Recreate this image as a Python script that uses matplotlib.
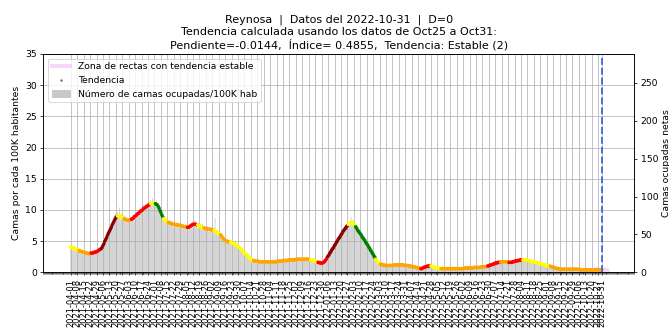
import matplotlib
matplotlib.use('Agg')
import matplotlib.pyplot as plt
import matplotlib.dates as mdates
from matplotlib.lines import Line2D
from matplotlib.patches import Patch
import numpy as np
import pandas as pd

ciudad = 'Reynosa'
fecha_datos = '2022-10-31'
poblacion = 823000

fecha_inicio = '2021-04-01'
fecha_fin = '2022-10-31'

# tendencia diaria (camas por cada 100K hab), una fila por semana
tendencia = [
    4.1, 4.0, 3.9, 3.9, 3.8, 3.7, 3.7,
    3.6, 3.6, 3.5, 3.4, 3.4, 3.3, 3.3,
    3.2, 3.2, 3.1, 3.1, 3.1, 3.0, 3.0,
    3.0, 3.1, 3.1, 3.1, 3.2, 3.2, 3.3,
    3.3, 3.4, 3.5, 3.6, 3.7, 3.8, 4.0,
    4.3, 4.6, 5.0, 5.3, 5.6, 6.0, 6.3,
    6.6, 6.9, 7.2, 7.6, 7.9, 8.2, 8.5,
    8.8, 8.9, 9.0, 9.1, 9.1, 9.0, 8.9,
    8.8, 8.7, 8.6, 8.5, 8.4, 8.4, 8.3,
    8.3, 8.4, 8.4, 8.5, 8.6, 8.7, 8.9,
    9.0, 9.1, 9.3, 9.4, 9.5, 9.7, 9.8,
    9.9, 10.0, 10.2, 10.3, 10.4, 10.5, 10.6,
    10.7, 10.8, 10.9, 11.0, 11.0, 11.1, 11.1,
    11.1, 11.0, 10.9, 10.8, 10.6, 10.3, 9.9,
    9.6, 9.2, 8.9, 8.6, 8.4, 8.3, 8.1,
    8.0, 8.0, 7.9, 7.9, 7.8, 7.8, 7.7,
    7.7, 7.7, 7.6, 7.6, 7.6, 7.6, 7.5,
    7.5, 7.5, 7.4, 7.4, 7.3, 7.3, 7.3,
    7.2, 7.2, 7.2, 7.3, 7.4, 7.5, 7.6,
    7.7, 7.7, 7.7, 7.7, 7.6, 7.6, 7.5,
    7.4, 7.3, 7.3, 7.2, 7.1, 7.1, 7.0,
    7.0, 7.0, 6.9, 6.9, 6.9, 6.9, 6.8,
    6.8, 6.7, 6.7, 6.6, 6.6, 6.4, 6.3,
    6.2, 6.1, 6.0, 5.8, 5.6, 5.4, 5.2,
    5.1, 5.0, 5.0, 4.9, 4.9, 4.8, 4.8,
    4.7, 4.7, 4.6, 4.5, 4.5, 4.4, 4.3,
    4.2, 4.0, 3.9, 3.7, 3.6, 3.4, 3.3,
    3.1, 3.0, 2.8, 2.7, 2.5, 2.4, 2.2,
    2.1, 2.0, 1.9, 1.9, 1.8, 1.8, 1.8,
    1.8, 1.8, 1.7, 1.7, 1.7, 1.7, 1.7,
    1.7, 1.7, 1.7, 1.7, 1.7, 1.7, 1.7,
    1.7, 1.7, 1.7, 1.7, 1.7, 1.7, 1.7,
    1.7, 1.8, 1.8, 1.8, 1.8, 1.8, 1.8,
    1.9, 1.9, 1.9, 1.9, 1.9, 1.9, 2.0,
    2.0, 2.0, 2.0, 2.0, 2.0, 2.0, 2.0,
    2.1, 2.1, 2.1, 2.1, 2.1, 2.1, 2.1,
    2.1, 2.1, 2.1, 2.1, 2.1, 2.1, 2.1,
    2.1, 2.0, 2.0, 2.0, 2.0, 1.9, 1.9,
    1.8, 1.7, 1.7, 1.6, 1.6, 1.5, 1.5,
    1.5, 1.5, 1.6, 1.7, 1.9, 2.1, 2.4,
    2.6, 2.8, 3.1, 3.3, 3.6, 3.8, 4.0,
    4.3, 4.5, 4.8, 5.0, 5.3, 5.5, 5.7,
    6.0, 6.2, 6.5, 6.7, 6.9, 7.1, 7.3,
    7.5, 7.7, 7.8, 7.9, 8.0, 8.0, 7.9,
    7.7, 7.5, 7.3, 7.1, 6.8, 6.6, 6.4,
    6.2, 6.0, 5.7, 5.5, 5.3, 5.1, 4.8,
    4.6, 4.4, 4.1, 3.9, 3.6, 3.4, 3.1,
    2.9, 2.6, 2.4, 2.1, 1.9, 1.6, 1.5,
    1.4, 1.3, 1.3, 1.2, 1.2, 1.2, 1.1,
    1.1, 1.1, 1.1, 1.1, 1.1, 1.1, 1.1,
    1.1, 1.1, 1.2, 1.2, 1.2, 1.2, 1.2,
    1.2, 1.2, 1.2, 1.2, 1.2, 1.2, 1.1,
    1.1, 1.1, 1.1, 1.1, 1.0, 1.0, 1.0,
    1.0, 0.9, 0.9, 0.9, 0.8, 0.8, 0.7,
    0.7, 0.7, 0.6, 0.6, 0.6, 0.7, 0.8,
    0.8, 0.9, 0.9, 1.0, 1.0, 1.0, 1.0,
    1.0, 1.0, 0.9, 0.9, 0.8, 0.8, 0.7,
    0.7, 0.7, 0.6, 0.6, 0.6, 0.6, 0.6,
    0.6, 0.6, 0.6, 0.6, 0.6, 0.6, 0.6,
    0.6, 0.6, 0.6, 0.6, 0.6, 0.6, 0.6,
    0.6, 0.6, 0.6, 0.6, 0.6, 0.6, 0.6,
    0.6, 0.6, 0.7, 0.7, 0.7, 0.7, 0.7,
    0.7, 0.7, 0.7, 0.7, 0.7, 0.8, 0.8,
    0.8, 0.8, 0.8, 0.8, 0.8, 0.8, 0.9,
    0.9, 0.9, 0.9, 0.9, 0.9, 1.0, 1.0,
    1.1, 1.1, 1.2, 1.2, 1.3, 1.3, 1.4,
    1.5, 1.5, 1.5, 1.6, 1.6, 1.6, 1.6,
    1.7, 1.7, 1.7, 1.7, 1.7, 1.7, 1.7,
    1.6, 1.6, 1.6, 1.6, 1.6, 1.7, 1.7,
    1.8, 1.8, 1.8, 1.9, 1.9, 1.9, 2.0,
    2.0, 2.0, 2.0, 2.0, 2.0, 2.0, 2.0,
    1.9, 1.9, 1.9, 1.8, 1.8, 1.7, 1.7,
    1.7, 1.6, 1.6, 1.6, 1.5, 1.5, 1.4,
    1.4, 1.4, 1.3, 1.3, 1.2, 1.2, 1.2,
    1.1, 1.1, 1.0, 1.0, 1.0, 0.9, 0.9,
    0.8, 0.8, 0.7, 0.7, 0.6, 0.6, 0.6,
    0.5, 0.5, 0.5, 0.5, 0.5, 0.5, 0.5,
    0.5, 0.5, 0.5, 0.5, 0.5, 0.5, 0.5,
    0.5, 0.5, 0.5, 0.5, 0.5, 0.5, 0.5,
    0.5, 0.5, 0.4, 0.4, 0.4, 0.4, 0.4,
    0.4, 0.4, 0.4, 0.4, 0.4, 0.4, 0.4,
    0.4, 0.4, 0.4, 0.4, 0.4, 0.4, 0.4,
    0.4, 0.4, 0.4, 0.4, 0.4,
]

# camas ocupadas por cada 100K hab, dato diario
camas_100k = [
    4.3, 3.6, 4.0, 3.5, 4.2, 3.8, 3.4,
    3.9, 3.3, 3.7, 3.2, 3.6, 3.0, 3.5,
    3.4, 2.9, 3.3, 2.8, 3.2, 3.1, 2.8,
    3.2, 2.9, 3.3, 3.0, 3.4, 3.1, 3.6,
    3.5, 3.2, 3.8, 3.4, 4.0, 3.6, 4.3,
    4.6, 4.1, 5.3, 5.0, 5.9, 5.5, 6.7,
    6.4, 7.3, 6.9, 7.9, 7.4, 8.6, 8.1,
    9.4, 8.5, 9.6, 8.7, 10.4, 8.6, 9.3,
    8.4, 9.2, 8.1, 9.0, 8.0, 8.9, 7.9,
    8.7, 8.0, 8.9, 8.1, 9.1, 8.3, 9.4,
    8.6, 9.7, 8.8, 10.0, 9.1, 10.3, 9.4,
    10.4, 9.6, 10.8, 9.8, 11.0, 10.1, 11.2,
    10.3, 11.3, 10.5, 11.6, 10.6, 11.9, 10.7,
    11.7, 10.6, 11.5, 10.3, 11.2, 9.8, 10.5,
    9.2, 9.8, 8.5, 9.4, 8.0, 8.9, 7.7,
    8.5, 7.6, 8.4, 7.5, 8.3, 7.4, 8.2,
    7.3, 8.1, 7.2, 8.0, 7.2, 8.0, 7.1,
    7.9, 7.1, 7.8, 7.0, 7.7, 6.9, 7.6,
    6.8, 7.6, 6.8, 7.8, 7.0, 8.0, 7.2,
    8.2, 7.3, 8.3, 7.2, 8.1, 7.1, 7.9,
    7.0, 7.8, 6.9, 7.7, 6.7, 7.5, 6.6,
    7.4, 6.6, 7.4, 6.5, 7.3, 6.5, 7.2,
    6.4, 7.2, 6.3, 8.7, 6.2, 6.8, 5.9,
    6.6, 5.7, 6.4, 5.4, 6.1, 5.0, 5.6,
    4.8, 5.4, 4.7, 5.3, 4.6, 5.2, 4.5,
    5.1, 4.4, 5.0, 4.2, 4.9, 4.1, 4.6,
    3.9, 4.4, 3.6, 4.1, 3.3, 3.9, 3.1,
    3.5, 2.8, 3.2, 2.5, 3.0, 2.3, 2.6,
    1.9, 2.3, 1.7, 2.1, 1.6, 2.0, 1.6,
    2.0, 1.6, 1.9, 1.5, 1.9, 1.5, 1.9,
    1.5, 1.9, 1.5, 1.9, 1.5, 1.9, 1.5,
    1.9, 1.5, 1.9, 1.6, 1.9, 1.5, 1.9,
    1.6, 2.0, 1.6, 2.0, 1.7, 2.0, 1.7,
    2.1, 1.7, 2.1, 1.8, 2.1, 1.7, 2.2,
    1.8, 2.2, 1.8, 2.2, 1.9, 2.2, 1.8,
    2.3, 1.9, 2.3, 1.9, 2.3, 2.0, 2.3,
    1.9, 2.3, 2.0, 2.3, 1.9, 2.4, 2.0,
    2.3, 1.8, 2.2, 1.9, 2.2, 1.7, 2.1,
    1.6, 1.9, 1.5, 1.8, 1.4, 1.7, 1.3,
    1.7, 1.3, 1.8, 1.5, 2.1, 1.9, 2.7,
    2.4, 3.1, 2.8, 3.5, 3.2, 4.1, 3.8,
    4.6, 4.2, 5.1, 4.7, 5.6, 5.1, 6.0,
    5.7, 6.5, 6.1, 6.9, 6.5, 7.4, 7.0,
    7.9, 7.3, 8.3, 7.6, 8.9, 7.7, 8.4,
    7.4, 8.0, 7.0, 7.6, 6.5, 7.0, 6.1,
    6.5, 5.7, 6.1, 5.2, 5.7, 4.8, 5.1,
    4.3, 4.8, 3.8, 4.3, 3.3, 3.8, 2.9,
    3.2, 2.4, 2.7, 1.9, 2.3, 1.5, 1.7,
    1.2, 1.5, 1.1, 1.4, 1.0, 1.4, 1.0,
    1.3, 0.9, 1.3, 1.0, 1.3, 0.9, 1.3,
    0.9, 1.3, 1.0, 1.4, 1.0, 1.4, 1.0,
    1.4, 1.0, 1.4, 1.0, 1.4, 1.0, 1.3,
    0.9, 1.3, 0.9, 1.3, 0.8, 1.2, 0.8,
    1.2, 0.8, 1.1, 0.7, 1.0, 0.6, 0.9,
    0.5, 0.9, 0.5, 0.8, 0.5, 0.9, 0.6,
    1.0, 0.7, 1.1, 0.8, 1.2, 0.9, 1.2,
    0.8, 1.2, 0.7, 1.1, 0.6, 1.0, 0.6,
    0.9, 0.5, 0.8, 0.5, 0.8, 0.4, 0.8,
    0.4, 0.8, 0.5, 0.8, 0.4, 0.8, 0.5,
    0.8, 0.4, 0.8, 0.5, 0.8, 0.4, 0.8,
    0.5, 0.8, 0.4, 0.8, 0.5, 0.8, 0.4,
    0.8, 0.5, 0.9, 0.5, 0.9, 0.6, 0.9,
    0.5, 0.9, 0.6, 0.9, 0.5, 1.0, 0.6,
    1.0, 0.6, 1.0, 0.7, 1.0, 0.6, 1.1,
    0.7, 1.1, 0.7, 1.1, 0.8, 1.2, 0.8,
    1.3, 0.9, 1.4, 1.0, 1.5, 1.1, 1.6,
    1.3, 1.7, 1.3, 1.8, 1.4, 1.8, 1.4,
    1.9, 1.5, 1.9, 1.5, 1.9, 1.5, 1.9,
    1.4, 1.8, 1.4, 1.8, 1.4, 1.9, 1.5,
    2.0, 1.6, 2.0, 1.7, 2.1, 1.7, 2.2,
    1.8, 2.2, 1.8, 2.3, 1.8, 2.2, 1.8,
    2.1, 1.7, 2.1, 1.6, 2.0, 1.5, 1.9,
    1.5, 1.8, 1.4, 1.8, 1.3, 1.7, 1.2,
    1.6, 1.2, 1.5, 1.1, 1.4, 1.0, 1.4,
    0.9, 1.3, 0.8, 1.2, 0.8, 1.1, 0.7,
    1.0, 0.6, 0.9, 0.5, 0.8, 0.4, 0.8,
    0.4, 0.7, 0.3, 0.7, 0.3, 0.7, 0.4,
    0.7, 0.3, 0.7, 0.4, 0.7, 0.3, 0.7,
    0.4, 0.7, 0.3, 0.7, 0.4, 0.7, 0.3,
    0.7, 0.3, 0.6, 0.3, 0.6, 0.2, 0.6,
    0.2, 0.6, 0.3, 0.6, 0.2, 0.6, 0.3,
    0.6, 0.2, 0.6, 0.3, 0.6, 0.2, 0.6,
    0.3, 0.6, 0.2, 0.6, 0.4,
]

# clase de tendencia: 0 decreciente, 1 estable a la baja, 2 estable, 3 creciente, 4 creciente fuerte
tramo_inicio = [
    '2021-04-01', '2021-04-10', '2021-04-23', '2021-05-04', '2021-05-22',
    '2021-05-29', '2021-06-06', '2021-06-27', '2021-07-02', '2021-07-11',
    '2021-07-16', '2021-08-06', '2021-08-17', '2021-08-24', '2021-09-04',
    '2021-09-11', '2021-09-22', '2021-10-17', '2021-12-18', '2021-12-26',
    '2022-01-06', '2022-01-28', '2022-02-05', '2022-02-27', '2022-03-04',
    '2022-04-17', '2022-04-28', '2022-05-09', '2022-06-29', '2022-07-13',
    '2022-07-22', '2022-08-06', '2022-09-05',
]
tramo_clase = [
    1, 2, 3, 4, 1,
    2, 3, 1, 0, 1,
    2, 3, 1, 2, 1,
    2, 1, 2, 1, 3,
    4, 1, 0, 1, 2,
    3, 1, 2, 3, 2,
    3, 1, 2,
]
colores_clase = ['green', 'yellow', 'orange', 'red', 'darkred']

# rectas con tendencia estable al final del periodo
zona_fechas = ['2022-10-25', '2022-11-06']
zona_valores = [0.45, 0.30]

pendiente = -0.0144
indice = 0.4855

fechas = pd.date_range(fecha_inicio, fecha_fin, freq='D')
inicio = pd.to_datetime(tramo_inicio)
pos = np.searchsorted(inicio.values, fechas.values, side='right') - 1
colores = [colores_clase[tramo_clase[p]] for p in pos]

fig, ax = plt.subplots(figsize=(669 / 67, 335 / 67), dpi=67)
fig.subplots_adjust(left=0.0647, right=0.9477, bottom=0.187, top=0.839)

ax.bar(fechas, camas_100k, width=0.5, color='#a8a8a8', linewidth=0,
       snap=False, zorder=1)
ax.plot(pd.to_datetime(zona_fechas), zona_valores, color='violet', alpha=0.35,
        lw=5, solid_capstyle='round', zorder=2)
ax.scatter(fechas, tendencia, c=colores, s=14, linewidths=0, zorder=3)
ax.axvline(pd.Timestamp(fecha_fin), color='royalblue', ls='--', lw=2, zorder=4)

ticks = list(pd.date_range(fecha_inicio, fecha_fin, freq='7D')) + [pd.Timestamp(fecha_fin)]
ax.set_xticks(ticks)
ax.set_xticklabels([t.strftime('%Y-%m-%d') for t in ticks], rotation=90, fontsize=9)
ax.xaxis.set_minor_locator(mdates.DayLocator())
ax.set_xlim(pd.Timestamp(fecha_inicio) - pd.Timedelta(days=30),
            pd.Timestamp(fecha_fin) + pd.Timedelta(days=35))
ax.set_ylim(0, 35)
ax.grid(True, zorder=0)
ax.set_ylabel('Camas por cada 100K habitantes')

ax2 = ax.twinx()
ax2.set_ylim(0, 35 * poblacion / 100000)
ax2.set_ylabel('Camas ocupadas netas')

ax.set_title(ciudad + '  |  Datos del ' + fecha_datos + '  |  D=0\n'
             + 'Tendencia calculada usando los datos de Oct25 a Oct31:\n'
             + 'Pendiente=' + str(pendiente) + ',  Índice= ' + str(indice)
             + ',  Tendencia: Estable (2)')

handles = [
    Line2D([], [], color='violet', alpha=0.35, lw=4),
    Line2D([], [], ls='', marker='.', color='dimgray', markersize=3),
    Patch(color='#c8c8c8'),
]
etiquetas = ['Zona de rectas con tendencia estable', 'Tendencia',
             'Número de camas ocupadas/100K hab']
ax.legend(handles, etiquetas, loc='upper left')

fig.savefig('out.png', dpi=67)
